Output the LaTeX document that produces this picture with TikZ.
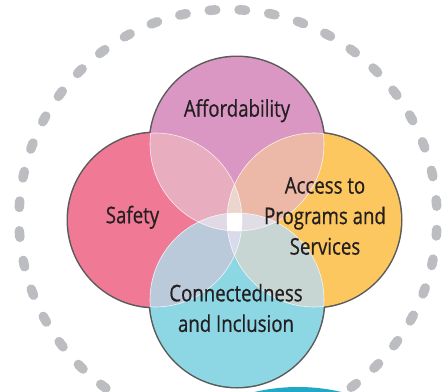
\documentclass[tikz,border=0pt]{standalone}
\usepackage{fontspec}
\setmainfont[FakeStretch=0.81,FakeBold=0.6]{Open Sans}
\definecolor{colT}{HTML}{DB97C4}
\definecolor{colL}{HTML}{F07A96}
\definecolor{colR}{HTML}{FDC75F}
\definecolor{colB}{HTML}{8DD6E3}
\definecolor{cTL}{HTML}{E8AEC0}
\definecolor{cTR}{HTML}{ECB8A8}
\definecolor{cBL}{HTML}{BACADB}
\definecolor{cBR}{HTML}{C7D6D2}
\definecolor{cLRT}{HTML}{ECD5CD}
\definecolor{cLRB}{HTML}{D9DBEC}
\definecolor{cTBL}{HTML}{E1D9E5}
\definecolor{cTBR}{HTML}{E1DDE6}
\definecolor{dashc}{HTML}{BCBDC0}
\definecolor{outc}{HTML}{5A5A5A}
\definecolor{tealc}{HTML}{1FA9C6}
\definecolor{txtc}{HTML}{231F20}
\begin{document}
\begin{tikzpicture}[x=1pt,y=-1pt,
  label/.style={font=\fontsize{23}{30.5}\selectfont, text=txtc, inner sep=0pt, align=center},
  dashring/.style={draw=dashc, line width=9.5pt, line cap=round, dash pattern=on 6.5pt off 23.35pt, dash phase=18.85pt},
  outline/.style={draw=outc, line width=3pt},
  inner/.style={draw=white, line width=0.6pt, draw opacity=0.8}]
\useasboundingbox (0,0) rectangle (443,391);
\def\R{87}
\coordinate (cT) at (237,144);
\coordinate (cB) at (237,300);
\coordinate (cL) at (155,220);
\coordinate (cR) at (314,220);
\coordinate (ring) at (228,218.5);
\coordinate (tealc) at (298,578);
% teal shape at the bottom
\fill[tealc] (tealc) circle (191);
% dashed ring
\path[dashring] (ring) circle (209);
% outer outline
\foreach \c in {cT,cL,cR,cB} \path[outline] (\c) circle (\R);
% base fills
\fill[colT] (cT) circle (\R);
\fill[colL] (cL) circle (\R);
\fill[colR] (cR) circle (\R);
\fill[colB] (cB) circle (\R);
% pairwise
\begin{scope}
  \clip (cT) circle (\R);
  \fill[cTL] (cL) circle (\R);
  \fill[cTR] (cR) circle (\R);
\end{scope}
\begin{scope}
  \clip (cB) circle (\R);
  \fill[cBL] (cL) circle (\R);
  \fill[cBR] (cR) circle (\R);
\end{scope}
% triples
\begin{scope}
  \clip (cL) circle (\R);
  \clip (cR) circle (\R);
  \fill[cLRT] (cT) circle (\R);
  \fill[cLRB] (cB) circle (\R);
\end{scope}
\begin{scope}
  \clip (cT) circle (\R);
  \clip (cB) circle (\R);
  \fill[cTBL] (cL) circle (\R);
  \fill[cTBR] (cR) circle (\R);
\end{scope}
% all four
\begin{scope}
  \clip (cT) circle (\R);
  \clip (cB) circle (\R);
  \clip (cL) circle (\R);
  \fill[white] (cR) circle (\R);
\end{scope}
% inner white arcs
\begin{scope}
  \clip (cL) circle (\R) (cR) circle (\R) (cB) circle (\R);
  \path[inner] (cT) circle (\R);
\end{scope}
\begin{scope}
  \clip (cT) circle (\R) (cR) circle (\R) (cB) circle (\R);
  \path[inner] (cL) circle (\R);
\end{scope}
\begin{scope}
  \clip (cT) circle (\R) (cL) circle (\R) (cB) circle (\R);
  \path[inner] (cR) circle (\R);
\end{scope}
\begin{scope}
  \clip (cT) circle (\R) (cL) circle (\R) (cR) circle (\R);
  \path[inner] (cB) circle (\R);
\end{scope}
% labels
\node[label, anchor=base] (afford) at (237,116.7) {Affordability};
\node[label, anchor=base] (safety) at (132.5,223.3) {Safety};
\node[label, anchor=center] (access) at (325,216) {Access to\\Programs and\\Services};
\node[label, anchor=center] (connect) at (236,308) {Connectedness\\and Inclusion};
\end{tikzpicture}
\end{document}
